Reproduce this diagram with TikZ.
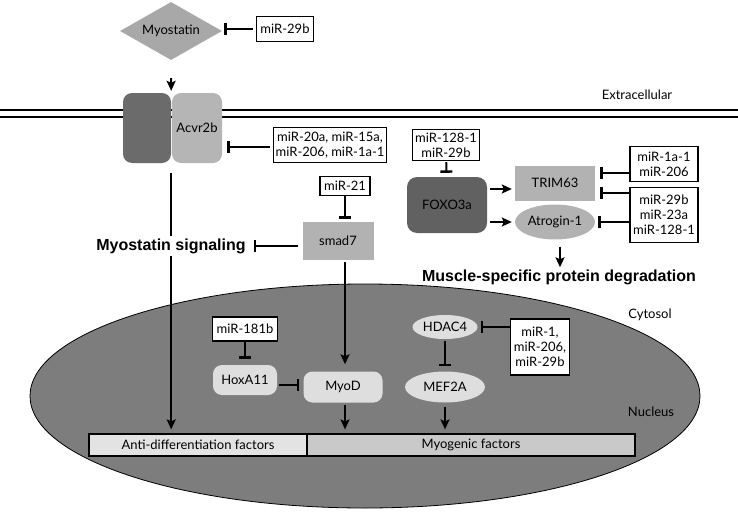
\documentclass[tikz,border=0pt]{standalone}
\usepackage{fontspec}
\setmainfont{Lato}
\newfontfamily\headfont{Liberation Sans}
\usetikzlibrary{shapes.geometric,arrows.meta}

\begin{document}
\begin{tikzpicture}[x=1pt,y=-1pt,
  every node/.style={font=\fontsize{13}{15}\selectfont, align=center, inner sep=0pt},
  mirbox/.style={draw=black, line width=1.3pt, fill=white},
  act/.style={line width=1.9pt, -{Stealth[length=10pt,width=9pt,inset=2pt]}},
  inh/.style={line width=1.9pt, -{Bar[width=12pt,line width=2.4pt]}},
  midgrey/.style={fill=black!30},
  palegrey/.style={fill=black!13},
  heading/.style={font=\headfont\bfseries\fontsize{16}{18}\selectfont}]
\useasboundingbox (0,0) rectangle (738,511);

\draw[line width=2.6pt] (0,110) -- (738,110);
\draw[line width=2.6pt] (0,117) -- (738,117);
\node at (637,95) {Extracellular};

\node[draw, line width=0.8pt, fill=black!51, ellipse, minimum width=670pt, minimum height=224pt] (nucleus) at (365,396) {};
\node at (650,315) {Cytosol};
\node at (651,412) {Nucleus};

\node[diamond, fill=black!34, minimum width=102pt, minimum height=58pt, aspect=1.76] (myostatin) at (171,31) {Myostatin};
\node[mirbox, minimum width=57pt, minimum height=25pt] (mirA) at (285,29) {miR-29b};

\node[fill=black!58, rounded corners=9pt, minimum width=48pt, minimum height=70pt] (recL) at (147,128) {};
\node[fill=black!29, rounded corners=9pt, minimum width=50pt, minimum height=70pt] (recR) at (197,128) {Acvr2b};
\node[mirbox, minimum width=113pt, minimum height=35pt] (mirB) at (330,145) {miR-20a, miR-15a,\\miR-206, miR-1a-1};

\node[mirbox, minimum width=67pt, minimum height=31pt] (mirC) at (446,145) {miR-128-1\\miR-29b};
\node[fill=black!62, rounded corners=10pt, minimum width=80pt, minimum height=56pt] (foxo) at (447,205) {FOXO3a};
\node[midgrey, minimum width=80pt, minimum height=35pt] (trim) at (555,183) {TRIM63};
\node[midgrey, ellipse, minimum width=80pt, minimum height=35pt] (atrogin) at (555,222) {Atrogin-1};
\node[mirbox, minimum width=68pt, minimum height=35pt] (mirD) at (664,164) {miR-1a-1\\miR-206};
\node[mirbox, minimum width=68pt, minimum height=55pt] (mirE) at (664,215) {miR-29b\\miR-23a\\miR-128-1};
\node[heading] (degrad) at (559,277) {Muscle-specific protein degradation};

\node[mirbox, minimum width=50pt, minimum height=19pt] (mirF) at (345,186) {miR-21};
\node[midgrey, minimum width=71pt, minimum height=38pt] (smad) at (338,241) {smad7};

\node[mirbox, minimum width=65pt, minimum height=24pt] (mirG) at (245,329) {miR-181b};
\node[palegrey, rounded corners=9pt, minimum width=64pt, minimum height=30pt] (hox) at (245,380) {HoxA11};
\node[palegrey, rounded corners=9pt, minimum width=79pt, minimum height=31pt] (myod) at (343,387) {MyoD};
\node[palegrey, ellipse, minimum width=65pt, minimum height=24pt] (hdac) at (445,327) {HDAC4};
\node[mirbox, minimum width=59pt, minimum height=56pt] (mirH) at (540,347) {miR-1,\\miR-206,\\miR-29b};
\node[palegrey, ellipse, minimum width=80pt, minimum height=31pt] (mef) at (445,387) {MEF2A};

\node[draw, line width=1.2pt, fill=black!11, minimum width=218pt, minimum height=22pt] (anti) at (198,445) {Anti-differentiation factors};
\node[draw, line width=1.2pt, fill=black!21, minimum width=328pt, minimum height=22pt] (myog) at (471,445) {Myogenic factors};

\draw[inh, shorten <=3pt, shorten >=2pt] (mirA.west) -- (mirA.west -| myostatin.east);
\draw[act, shorten <=18pt, shorten >=2pt] (myostatin.south) -- (recL.north east);
\draw[inh, shorten <=3pt, shorten >=5pt] (mirB.west |- 0,147) -- (recR.east |- 0,147);
\draw[act, shorten <=10pt, shorten >=4pt] (recL.south east) -- (recL.south east |- anti.north);
\node[heading, fill=white, inner sep=3pt] (signal) at (171,246) {Myostatin signaling};

\draw[inh, shorten <=1pt, shorten >=4pt] (mirC) -- (foxo);
\draw[act, shorten <=3pt, shorten >=3pt] ([yshift=-6pt]trim.west -| foxo.east) -- ([yshift=-6pt]trim.west);
\draw[act, shorten <=3pt, shorten >=3pt] (atrogin.west -| foxo.east) -- (atrogin.west);
\draw[inh, shorten >=5pt] ([yshift=-10pt]trim.east -| mirD.west) -- ([yshift=-10pt]trim.east);
\draw[inh, shorten >=5pt] ([yshift=10pt]trim.east -| mirE.west) -- ([yshift=10pt]trim.east);
\draw[inh, shorten >=3pt] (atrogin.east -| mirE.west) -- (atrogin.east);
\draw[act, shorten <=7pt, shorten >=2pt] ([xshift=5pt]atrogin.south) -- ([xshift=5pt]atrogin.south |- degrad.north);

\draw[inh, shorten >=3pt] (mirF) -- (smad.north -| mirF);
\draw[inh, shorten <=4pt, shorten >=5pt] (smad.west |- signal) -- (signal.east);
\draw[act, shorten <=2pt, shorten >=7pt] (smad.south -| mirF) -- (myod.north -| mirF);

\draw[inh, shorten >=6pt] (mirG) -- (hox);
\draw[inh, shorten <=2pt, shorten >=4pt] (hox.east |- 0,385) -- (myod.west |- 0,385);
\draw[act, shorten <=2pt, shorten >=4pt] (myod.south -| mirF) -- (myog.north -| mirF);
\draw[inh, shorten >=3pt] (mirH.west |- hdac) -- (hdac.east);
\draw[inh, shorten <=2pt, shorten >=5pt] (hdac) -- (mef);
\draw[act, shorten <=4pt, shorten >=4pt] (mef.south) -- (mef.south |- myog.north);
\end{tikzpicture}
\end{document}
